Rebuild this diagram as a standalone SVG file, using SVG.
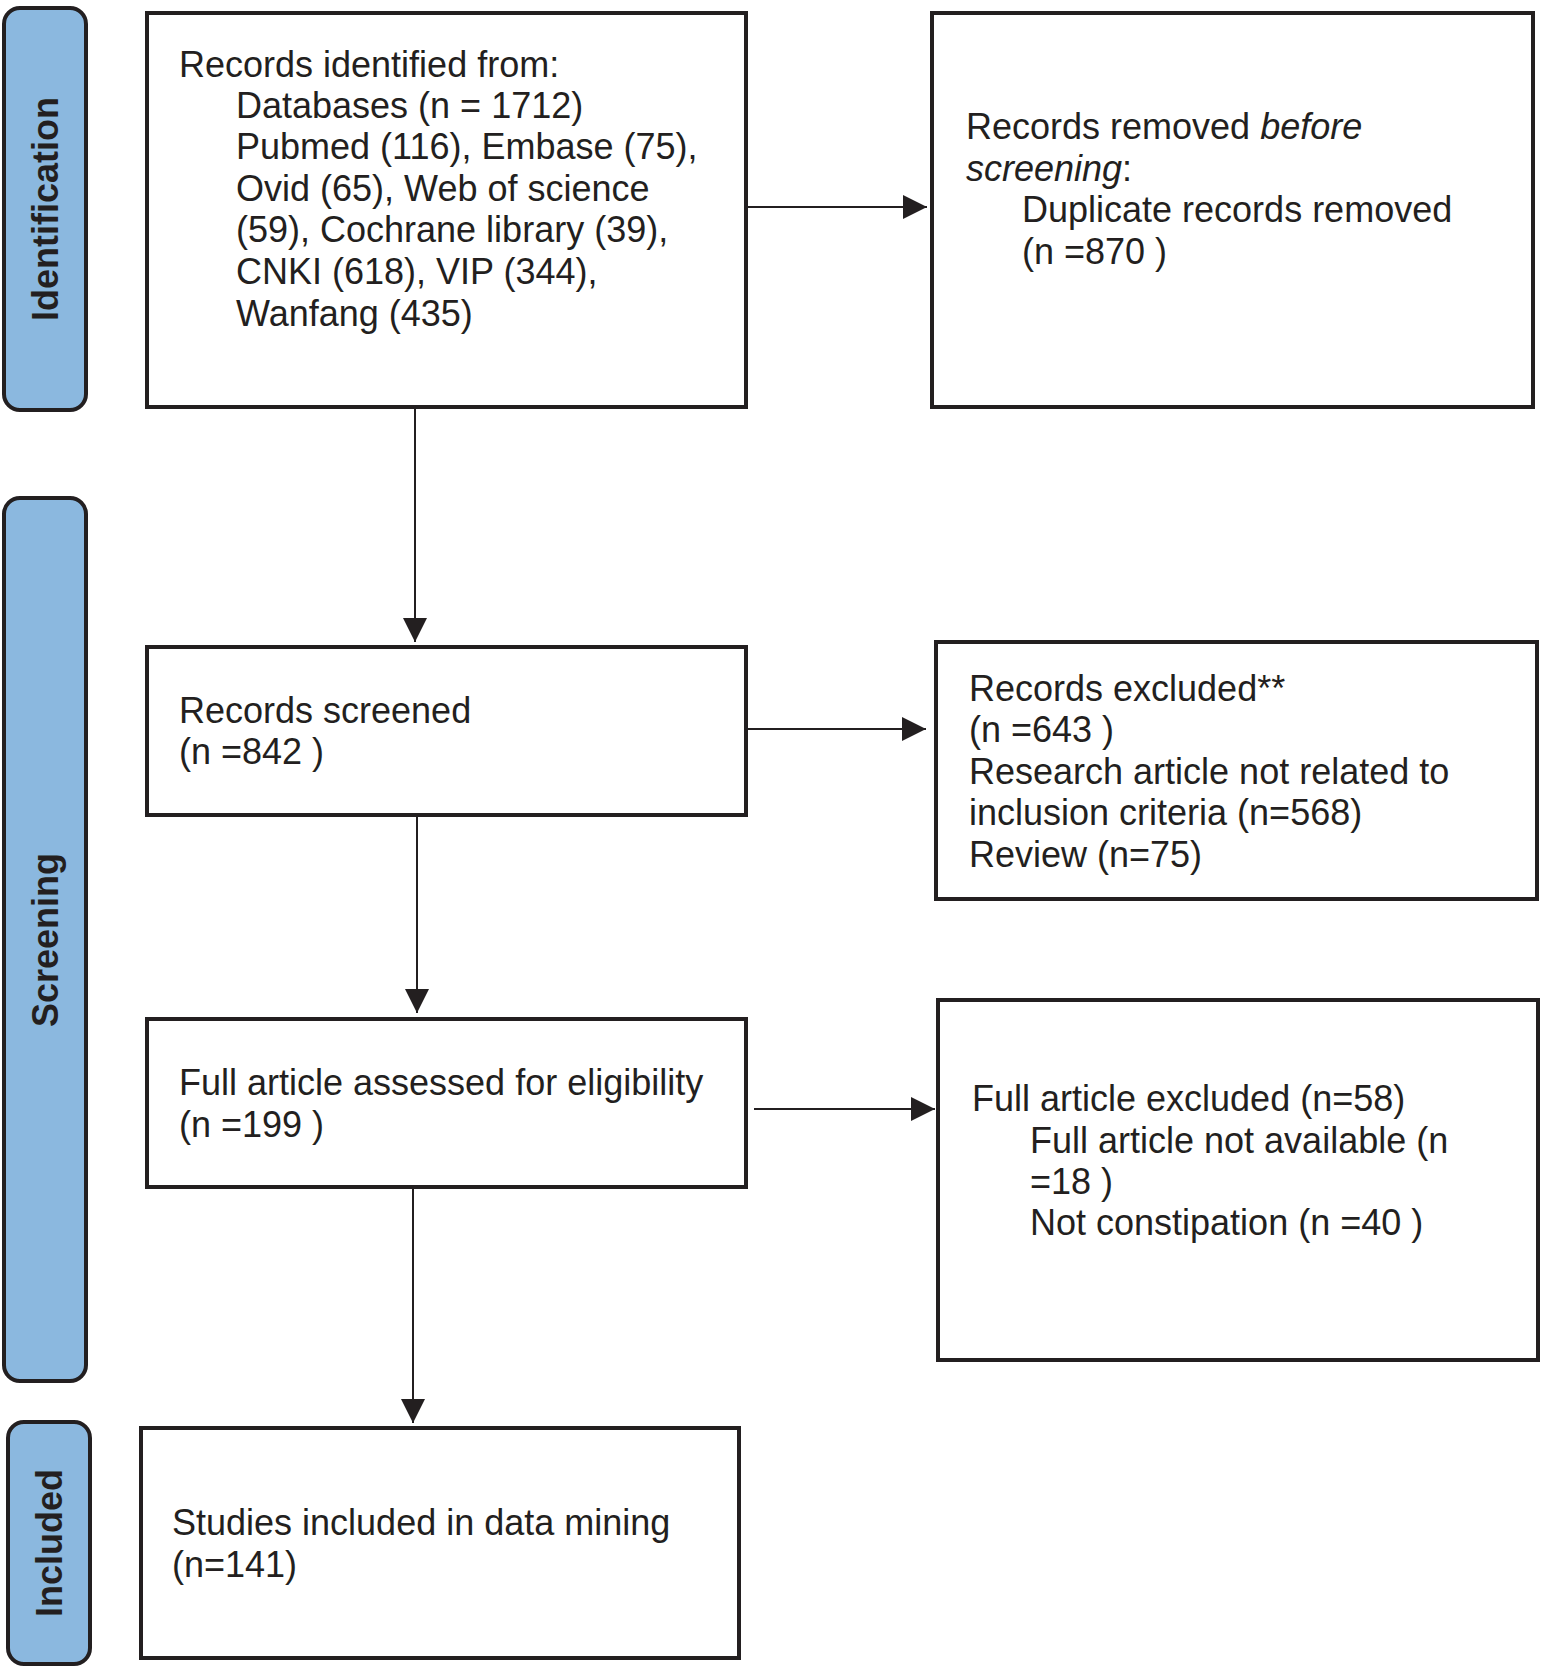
<svg xmlns="http://www.w3.org/2000/svg" width="1542" height="1667" viewBox="0 0 1542 1667">
<style>
.tab{fill:#8bb8df;stroke:#231f20;stroke-width:4}
.box{fill:#fff;stroke:#231f20;stroke-width:4}
.t{font-family:"Liberation Sans",Arial,sans-serif;font-size:36px;fill:#231f20}
.tl{font-family:"Liberation Sans",Arial,sans-serif;font-size:36px;font-weight:bold;fill:#231f20;text-anchor:middle}
.c{stroke:#231f20;stroke-width:2;fill:none;marker-end:url(#ah)}
</style>
<defs>
<marker id="ah" viewBox="0 0 24 24" refX="24" refY="12" markerWidth="24" markerHeight="24" markerUnits="userSpaceOnUse" orient="auto"><path d="M0,0 L24,12 L0,24 z" fill="#231f20"/></marker>
</defs>
<rect width="1542" height="1667" fill="#fff"/>
<g id="tab-identification">
<rect class="tab" x="4" y="8" width="82" height="402" rx="16"/>
<text class="tl" transform="translate(58,209) rotate(-90)">Identification</text>
</g>
<g id="tab-screening">
<rect class="tab" x="4" y="498" width="82" height="883" rx="16"/>
<text class="tl" transform="translate(58,940) rotate(-90)">Screening</text>
</g>
<g id="tab-included">
<rect class="tab" x="8" y="1422" width="82" height="242" rx="16"/>
<text class="tl" transform="translate(62,1543) rotate(-90)">Included</text>
</g>
<g id="identified">
<rect class="box" x="147" y="13" width="599" height="394"/>
<text class="t"><tspan x="179" y="77">Records identified from:</tspan><tspan x="236" y="118">Databases (n = 1712)</tspan><tspan x="236" y="159">Pubmed (116), Embase (75),</tspan><tspan x="236" y="201">Ovid (65), Web of science</tspan><tspan x="236" y="242">(59), Cochrane library (39),</tspan><tspan x="236" y="284">CNKI (618), VIP (344),</tspan><tspan x="236" y="326">Wanfang (435)</tspan></text>
</g>
<g id="removed">
<rect class="box" x="932" y="13" width="601" height="394"/>
<text class="t"><tspan x="966" y="139">Records removed <tspan font-style="italic">before</tspan></tspan><tspan x="966" y="181"><tspan font-style="italic">screening</tspan>:</tspan><tspan x="1022" y="222">Duplicate records removed</tspan><tspan x="1022" y="264">(n =870 )</tspan></text>
</g>
<g id="screened">
<rect class="box" x="147" y="647" width="599" height="168"/>
<text class="t"><tspan x="179" y="723">Records screened</tspan><tspan x="179" y="764">(n =842 )</tspan></text>
</g>
<g id="excluded">
<rect class="box" x="936" y="642" width="601" height="257"/>
<text class="t"><tspan x="969" y="701">Records excluded**</tspan><tspan x="969" y="742">(n =643 )</tspan><tspan x="969" y="784">Research article not related to</tspan><tspan x="969" y="825">inclusion criteria (n=568)</tspan><tspan x="969" y="867">Review (n=75)</tspan></text>
</g>
<g id="assessed">
<rect class="box" x="147" y="1019" width="599" height="168"/>
<text class="t"><tspan x="179" y="1095">Full article assessed for eligibility</tspan><tspan x="179" y="1137">(n =199 )</tspan></text>
</g>
<g id="fulltext-excluded">
<rect class="box" x="938" y="1000" width="600" height="360"/>
<text class="t"><tspan x="972" y="1111">Full article excluded (n=58)</tspan><tspan x="1030" y="1153">Full article not available (n</tspan><tspan x="1030" y="1194">=18 )</tspan><tspan x="1030" y="1235">Not constipation (n =40 )</tspan></text>
</g>
<g id="included">
<rect class="box" x="141" y="1428" width="598" height="230"/>
<text class="t"><tspan x="172" y="1535">Studies included in data mining</tspan><tspan x="172" y="1577">(n=141)</tspan></text>
</g>
<g id="connectors">
<line class="c" x1="746" y1="207" x2="927" y2="207"/>
<line class="c" x1="415" y1="409" x2="415" y2="642"/>
<line class="c" x1="748" y1="729" x2="926" y2="729"/>
<line class="c" x1="417" y1="817" x2="417" y2="1013"/>
<line class="c" x1="754" y1="1109" x2="935" y2="1109"/>
<line class="c" x1="413" y1="1189" x2="413" y2="1423"/>
</g>
</svg>
